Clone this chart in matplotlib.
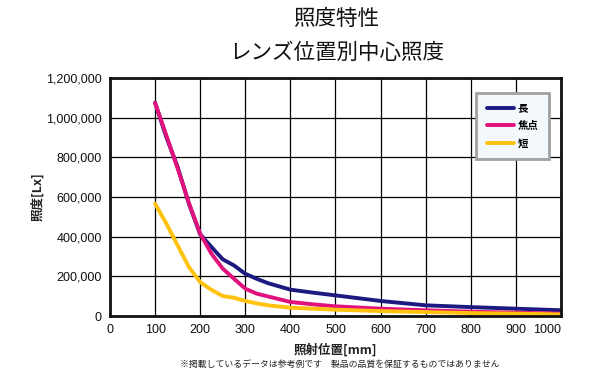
import numpy as np
import matplotlib
matplotlib.use('Agg')
import matplotlib.pyplot as plt
from matplotlib.ticker import FuncFormatter

plt.rcParams['font.family'] = ['Noto Sans CJK JP', 'DejaVu Sans']

# datos
pos_mm = [100, 125, 150, 175, 200, 225, 250, 275, 300, 325, 350, 400, 450, 500, 600, 700, 800, 900, 1000]
largo = [1075000, 902000, 751000, 566000, 412000, 348000, 286000, 255000, 213000, 188000, 166000, 133000, 118000, 104000, 76000, 54000, 45000, 37000, 29000]
foco = [1075000, 910000, 745000, 570000, 415000, 314000, 239000, 188000, 138000, 113000, 99000, 71000, 59000, 49000, 37000, 29000, 22000, 17000, 12000]
corto = [566000, 466000, 356000, 247000, 171000, 132000, 101000, 92000, 76000, 64000, 54000, 42000, 37000, 32000, 25000, 20000, 15000, 12000, 8000]
nombres = ['長', '焦点', '短']
colores = ['#1c1a80', '#e2127c', '#ffc20e']

fig = plt.figure(figsize=(6.03, 3.74), dpi=100)
ax = fig.add_axes([0.1824, 0.155, 0.7479, 0.6364])

for serie, nom, col in zip([largo, foco, corto], nombres, colores):
    ax.plot(pos_mm, serie, color=col, lw=2.8, label=nom, solid_capstyle='round')

ax.set_xlim(0, 1000)
ax.set_ylim(0, 1200000)
ax.set_xticks(np.arange(0, 1001, 100))
ax.set_yticks(np.arange(0, 1200001, 200000))
ax.yaxis.set_major_formatter(FuncFormatter(lambda v, p: f'{int(v):,}'))
ax.grid(True, color='black', lw=0.9)
ax.tick_params(length=0, pad=6)
for lab in ax.get_xticklabels() + ax.get_yticklabels():
    lab.set_family(['Liberation Sans', 'DejaVu Sans'])
    lab.set_fontsize(9)
    lab.set_color('#111111')
ax.get_xticklabels()[-1].set_ha('right')
ax.get_xticklabels()[-1].set_x(1003)
for s in ax.spines.values():
    s.set_linewidth(2)
    s.set_color('#111111')

ax.set_ylabel('照度[Lx]', fontsize=9, fontweight='bold', color='#222222', labelpad=1)
ax.set_xlabel('照射位置[mm]', fontsize=9, fontweight='bold', color='#222222', labelpad=5)

fig.text(0.558, 0.950, '照度特性', ha='center', va='center', fontsize=15.5, color='#111111')
fig.text(0.558, 0.858, 'レンズ位置別中心照度', ha='center', va='center', fontsize=15.5, color='#111111')
fig.text(0.563, 0.024, '※掲載しているデータは参考例です　製品の品質を保証するものではありません',
         ha='center', va='center', fontsize=6.4, color='#222222')

leg = ax.legend(loc='upper right', bbox_to_anchor=(0.985, 0.96), frameon=True,
                fancybox=False, handlelength=2.6, handletextpad=0.4, labelspacing=0.75,
                borderpad=1.0, prop={'weight': 'bold', 'size': 7.5})
leg.get_frame().set_facecolor('#f3f8fd')
leg.get_frame().set_edgecolor('#a0a0a0')
leg.get_frame().set_linewidth(2)
leg.get_frame().set_alpha(1)

fig.savefig('out.png', dpi=100)
